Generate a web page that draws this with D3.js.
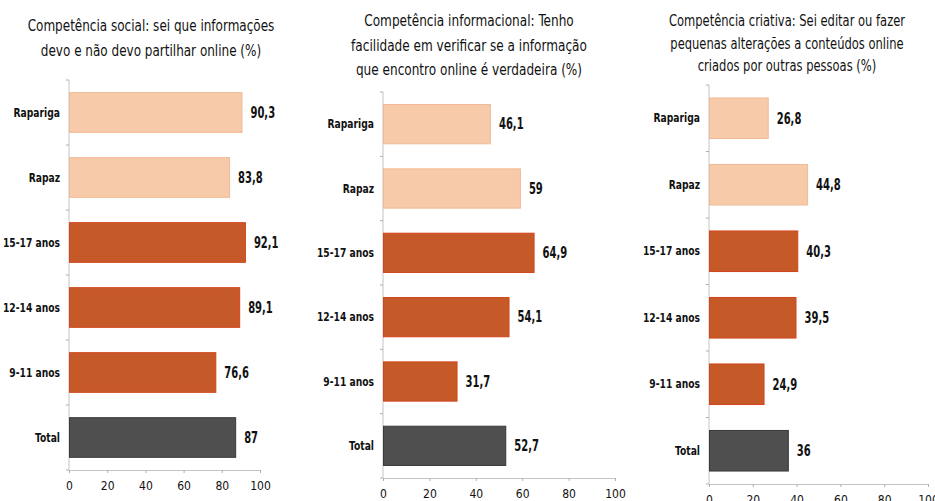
<!DOCTYPE html>
<html>
<head>
<meta charset="utf-8">
<script src="https://cdn.jsdelivr.net/npm/d3@7"></script>
<style>
  body { margin: 0; background: #fff; }
  svg { display: block; }
  text { font-family: "DejaVu Sans Condensed", "Liberation Sans Narrow", sans-serif; fill: #111; }
</style>
</head>
<body>
<svg id="chart" width="935" height="501"></svg>
<script>
// categorias (de cima para baixo)
const categories = ["Rapariga", "Rapaz", "15-17 anos", "12-14 anos", "9-11 anos", "Total"];
const groups = ["sexo", "sexo", "idade", "idade", "idade", "total"];

const socialValues = [90.3, 83.8, 92.1, 89.1, 76.6, 87];
const informacionalValues = [46.1, 59, 64.9, 54.1, 31.7, 52.7];
const criativaValues = [26.8, 44.8, 40.3, 39.5, 24.9, 36];

const xTicks = [0, 20, 40, 60, 80, 100];

const titleSocial = ["Competência social: sei que informações", "devo e não devo partilhar online (%)"];
const titleInformacional = ["Competência informacional: Tenho", "facilidade em verificar se a informação", "que encontro online é verdadeira (%)"];
const titleCriativa = ["Competência criativa: Sei editar ou fazer", "pequenas alterações a conteúdos online", "criados por outras pessoas (%)"];

const colors = { sexo: "#f7caa9", idade: "#c55a28", total: "#4f4f4f" };
const strokes = { sexo: "#f0b995", idade: "#d2441c", total: "#3a3a3a" };

// posição de cada painel
const panels = [
  { values: socialValues, title: titleSocial, x0: 69, x1: 260, y0: 80, y1: 470, tx: 151, ty: 31, lh: 25, tk: 0.835 },
  { values: informacionalValues, title: titleInformacional, x0: 383, x1: 615, y0: 92, y1: 478, tx: 469, ty: 26, lh: 24.5, tk: 0.84 },
  { values: criativaValues, title: titleCriativa, x0: 709, x1: 928, y0: 85, y1: 484, tx: 787, ty: 26, lh: 22.5, tk: 0.8 }
];

// aperta o texto na horizontal (a fonte original é mais estreita)
function squeeze(sel, k) {
  sel.each(function() {
    const len = this.getComputedTextLength();
    d3.select(this).attr("textLength", len * k).attr("lengthAdjust", "spacingAndGlyphs");
  });
}

const svg = d3.select("#chart");

panels.forEach(p => {
  const g = svg.append("g");

  const x = d3.scaleLinear().domain([0, 100]).range([p.x0, p.x1]);
  const y = d3.scaleBand().domain(categories).range([p.y0, p.y1])
    .paddingInner(0.39).paddingOuter(0.195);

  // título
  const title = g.selectAll(".title")
    .data(p.title)
    .enter().append("text")
    .attr("x", p.tx)
    .attr("y", (d, i) => p.ty + i * p.lh)
    .attr("text-anchor", "middle")
    .style("font-size", "16.5px")
    .text(d => d);
  squeeze(title, p.tk * 16 / 16.5);

  // eixo y (linha + pequenos traços entre categorias)
  g.append("line")
    .attr("x1", p.x0).attr("x2", p.x0)
    .attr("y1", p.y0).attr("y2", p.y1)
    .attr("stroke", "#c4c4c4");

  const step = y.step();
  g.selectAll(".ytick")
    .data(d3.range(categories.length + 1))
    .enter().append("line")
    .attr("x1", p.x0 - 3).attr("x2", p.x0)
    .attr("y1", i => p.y0 + i * step).attr("y2", i => p.y0 + i * step)
    .attr("stroke", "#b0b0b0");

  // eixo x
  const xAxis = g.append("g")
    .attr("transform", `translate(0,${p.y1})`)
    .call(d3.axisBottom(x).tickValues(xTicks).tickSize(3).tickPadding(8));
  xAxis.select(".domain").attr("stroke", "#c4c4c4");
  xAxis.selectAll(".tick line").attr("stroke", "#b0b0b0");
  xAxis.selectAll(".tick text")
    .style("font-family", "\"DejaVu Sans Condensed\", sans-serif")
    .style("font-size", "12px")
    .attr("fill", "#111");

  // barras
  g.selectAll(".bar")
    .data(p.values)
    .enter().append("rect")
    .attr("x", p.x0 + 0.5)
    .attr("y", (d, i) => y(categories[i]))
    .attr("width", d => x(d) - p.x0)
    .attr("height", y.bandwidth())
    .attr("fill", (d, i) => colors[groups[i]])
    .attr("stroke", (d, i) => strokes[groups[i]])
    .attr("stroke-width", 1);

  // rótulos das categorias
  const cats = g.selectAll(".cat")
    .data(categories)
    .enter().append("text")
    .attr("x", p.x0 - 9)
    .attr("y", d => y(d) + y.bandwidth() / 2)
    .attr("dy", "0.35em")
    .attr("text-anchor", "end")
    .style("font-size", "12px")
    .style("font-weight", "bold")
    .text(d => d);
  squeeze(cats, 0.85);

  // valores
  const vals = g.selectAll(".val")
    .data(p.values)
    .enter().append("text")
    .attr("x", d => x(d) + 9)
    .attr("y", (d, i) => y(categories[i]) + y.bandwidth() / 2)
    .attr("dy", "0.35em")
    .style("font-size", "15px")
    .style("font-weight", "bold")
    .text(d => String(d).replace(".", ","));
  squeeze(vals, 0.74);
});
</script>
</body>
</html>
